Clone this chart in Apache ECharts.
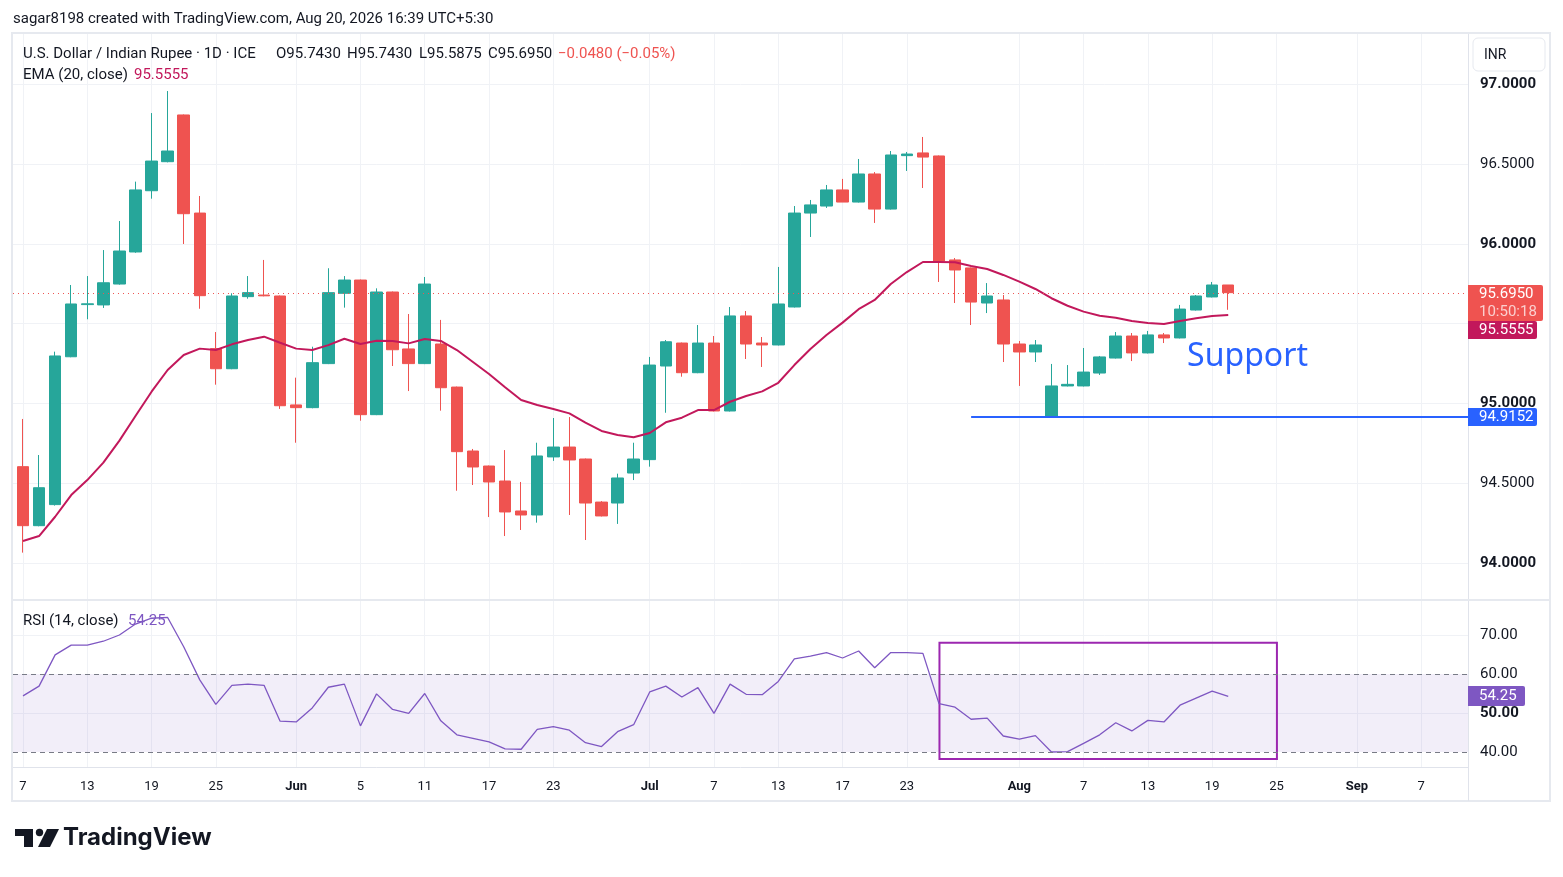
<!DOCTYPE html>
<html>
<head>
<meta charset="utf-8">
<script src="https://cdn.jsdelivr.net/npm/echarts@6/dist/echarts.min.js"></script>
<style>
    html, body { margin: 0; padding: 0; background: #ffffff; }
    #usdinr { width: 1563px; height: 877px; }
</style>
</head>
<body>
<div id="usdinr" class="echarts"></div>
<script>
// trading days shown on the chart
const tradeDates = [
    '2026-05-07','2026-05-08','2026-05-11','2026-05-12','2026-05-13','2026-05-14','2026-05-15',
    '2026-05-18','2026-05-19','2026-05-20','2026-05-21','2026-05-22','2026-05-25','2026-05-26',
    '2026-05-27','2026-05-28','2026-05-29',
    '2026-06-01','2026-06-02','2026-06-03','2026-06-04','2026-06-05','2026-06-08','2026-06-09',
    '2026-06-10','2026-06-11','2026-06-12','2026-06-15','2026-06-16','2026-06-17','2026-06-18',
    '2026-06-19','2026-06-22','2026-06-23','2026-06-24','2026-06-25','2026-06-26','2026-06-29',
    '2026-06-30',
    '2026-07-01','2026-07-02','2026-07-03','2026-07-06','2026-07-07','2026-07-08','2026-07-09',
    '2026-07-10','2026-07-13','2026-07-14','2026-07-15','2026-07-16','2026-07-17','2026-07-20',
    '2026-07-21','2026-07-22','2026-07-23','2026-07-24','2026-07-27','2026-07-28','2026-07-29',
    '2026-07-30','2026-07-31',
    '2026-08-03','2026-08-04','2026-08-05','2026-08-06','2026-08-07','2026-08-10','2026-08-11',
    '2026-08-12','2026-08-13','2026-08-14','2026-08-17','2026-08-18','2026-08-19','2026-08-20'
];

const openPx = [
    94.604, 94.234, 94.366, 95.293, 95.620, 95.618, 95.749, 95.950, 96.334, 96.516,
    96.809, 96.194, 95.344, 95.218, 95.670, 95.680, 95.674, 94.991, 94.974, 95.250,
    95.691, 95.774, 94.930, 95.699, 95.342, 95.250, 95.373, 95.103, 94.702, 94.608,
    94.514, 94.326, 94.301, 94.665, 94.727, 94.652, 94.382, 94.376, 94.564, 94.648,
    95.235, 95.379, 95.193, 95.379, 94.953, 95.549, 95.379, 95.367, 95.605, 96.194,
    96.238, 96.339, 96.263, 96.439, 96.219, 96.554, 96.571, 96.552, 95.900, 95.850,
    95.630, 95.649, 95.373, 95.323, 94.916, 95.110, 95.110, 95.191, 95.285, 95.423,
    95.317, 95.430, 95.411, 95.586, 95.668, 95.743
];
const highPx = [
    94.903, 94.677, 95.325, 95.743, 95.799, 95.962, 96.144, 96.391, 96.821, 96.959,
    96.812, 96.301, 95.448, 95.691, 95.799, 95.900, 95.677, 95.162, 95.356, 95.848,
    95.799, 95.777, 95.722, 95.702, 95.561, 95.793, 95.524, 95.106, 94.715, 94.611,
    94.708, 94.508, 94.754, 94.909, 94.915, 94.655, 94.388, 94.560, 94.754, 95.292,
    95.398, 95.382, 95.492, 95.423, 95.605, 95.580, 95.417, 95.856, 96.238, 96.276,
    96.370, 96.408, 96.533, 96.451, 96.583, 96.577, 96.671, 96.555, 95.912, 95.853,
    95.755, 95.680, 95.392, 95.398, 95.248, 95.241, 95.348, 95.298, 95.448, 95.442,
    95.455, 95.442, 95.618, 95.680, 95.762, 95.743
];
const lowPx = [
    94.065, 94.230, 94.360, 95.290, 95.528, 95.599, 95.745, 95.945, 96.284, 96.512,
    96.000, 95.594, 95.118, 95.215, 95.657, 95.672, 94.966, 94.754, 94.970, 95.247,
    95.601, 94.892, 94.927, 95.235, 95.078, 95.247, 94.955, 94.453, 94.489, 94.288,
    94.169, 94.207, 94.253, 94.640, 94.301, 94.144, 94.292, 94.245, 94.520, 94.604,
    94.942, 95.168, 95.190, 94.950, 94.950, 95.279, 95.229, 95.364, 95.602, 96.044,
    96.226, 96.263, 96.260, 96.132, 96.216, 96.458, 96.351, 95.762, 95.630, 95.492,
    95.567, 95.260, 95.110, 95.260, 94.9152, 95.107, 95.107, 95.179, 95.282, 95.266,
    95.314, 95.379, 95.408, 95.583, 95.665, 95.5875
];
const closePx = [
    94.234, 94.472, 95.298, 95.624, 95.625, 95.757, 95.956, 96.339, 96.520, 96.583,
    96.190, 95.676, 95.218, 95.674, 95.695, 95.675, 94.986, 94.974, 95.256, 95.695,
    95.774, 94.930, 95.699, 95.337, 95.250, 95.749, 95.099, 94.698, 94.602, 94.508,
    94.320, 94.301, 94.671, 94.727, 94.646, 94.376, 94.295, 94.533, 94.652, 95.241,
    95.387, 95.193, 95.379, 94.953, 95.549, 95.373, 95.367, 95.624, 96.194, 96.245,
    96.339, 96.263, 96.439, 96.219, 96.558, 96.564, 96.545, 95.893, 95.837, 95.636,
    95.674, 95.373, 95.323, 95.367, 95.110, 95.120, 95.197, 95.292, 95.423, 95.317,
    95.430, 95.411, 95.592, 95.674, 95.743, 95.695
];

// EMA (20, close)
const ema20 = [
    94.138, 94.169, 94.290, 94.426, 94.520, 94.629, 94.767, 94.922, 95.074, 95.210,
    95.304, 95.344, 95.335, 95.371, 95.398, 95.419, 95.381, 95.344, 95.335, 95.366,
    95.406, 95.373, 95.394, 95.392, 95.377, 95.404, 95.392, 95.335, 95.260, 95.185,
    95.102, 95.022, 94.991, 94.966, 94.938, 94.880, 94.828, 94.803, 94.788, 94.815,
    94.882, 94.911, 94.959, 94.959, 95.011, 95.047, 95.076, 95.130, 95.241, 95.342,
    95.429, 95.507, 95.591, 95.649, 95.749, 95.824, 95.887, 95.887, 95.886, 95.862,
    95.843, 95.806, 95.764, 95.718, 95.660, 95.613, 95.576, 95.550, 95.538, 95.517,
    95.505, 95.498, 95.517, 95.534, 95.549, 95.5555
];

// RSI (14, close)
const rsi14 = [
    54.4, 56.9, 64.9, 67.4, 67.4, 68.4, 70.0, 72.8, 74.3, 74.5,
    67.0, 58.5, 52.2, 57.1, 57.4, 57.1, 47.9, 47.7, 51.3, 56.6,
    57.4, 46.7, 54.9, 50.9, 49.9, 55.0, 48.0, 44.4, 43.5, 42.6,
    40.8, 40.7, 45.8, 46.5, 45.6, 42.4, 41.4, 45.2, 47.0, 55.4,
    56.9, 54.1, 56.5, 49.9, 57.4, 54.8, 54.7, 58.1, 63.9, 64.6,
    65.5, 64.1, 65.9, 61.6, 65.5, 65.5, 65.3, 52.4, 51.5, 48.4,
    48.7, 44.1, 43.3, 44.2, 40.0, 40.1, 42.2, 44.4, 47.5, 45.4,
    48.1, 47.7, 52.0, 53.8, 55.6, 54.25
];

// time scale labels (bar index -> text)
const timeTickIdx = [0, 4, 8, 12, 17, 21, 25, 29, 33, 39, 43, 47, 51, 55, 62, 66, 70, 74, 78, 83, 87];
const timeTickTxt = ['7', '13', '19', '25', 'Jun', '5', '11', '17', '23', 'Jul', '7', '13', '17', '23', 'Aug', '7', '13', '19', '25', 'Sep', '7'];

const priceGridLines = [94, 94.5, 95, 95.5, 96, 96.5, 97];
const priceLabels = [94, 94.5, 95, 96, 96.5, 97];   // 95.5 sits under the tags
const rsiTicks = [40, 50, 60, 70];
const rsiGridLines = [50, 70];
const rsiBand = [40, 60];

const lastPrice = 95.695;
const lastEma = 95.5555;
const lastRsi = 54.25;
const supportLevel = 94.9152;
const supportFromIdx = 59;
const supportTextAt = [76.2, 95.29];
const rsiBoxFrom = [57.03, 68.0];
const rsiBoxTo = [78.03, 38.2];

const X_MIN = -0.622, X_MAX = 89.92;
const FONT = 'Roboto, "Liberation Sans", sans-serif';
const SCALE_FS = 15;

class UsdInrDailyChart {
    constructor(domId) {
        this.domId = domId;
    }
    build() {
        this.chart = echarts.init(document.getElementById(this.domId), null, { renderer: 'canvas' });
        let option = {};
        option.animation = false;
        option.backgroundColor = '#ffffff';
        option.textStyle = { fontFamily: FONT };
        this.setGrid(option);
        this.setXAxis(option);
        this.setYAxis(option);
        this.setSeries(option);
        this.chart.setOption(option, true);
        // price scale tags need the pixel of each value, so add them after the axes exist
        this.chart.setOption({ graphic: this.buildGraphic() });
    }
    setGrid(option) {
        option.grid = [
            { left: 13, right: 95, top: 34, height: 566 },
            { left: 13, right: 95, top: 600, height: 167 }
        ];
    }
    timeAxis(gridIndex, showLabel) {
        return {
            type: 'value',
            gridIndex: gridIndex,
            min: X_MIN,
            max: X_MAX,
            axisLine: { show: false },
            axisTick: { show: false, customValues: timeTickIdx },
            splitLine: { show: true, lineStyle: { color: '#f0f2f6', width: 1 } },
            axisLabel: {
                show: showLabel,
                customValues: timeTickIdx,
                margin: 13,
                formatter: function (v) {
                    let k = timeTickIdx.indexOf(Math.round(v));
                    let t = k < 0 ? '' : timeTickTxt[k];
                    return /^[A-Z]/.test(t) ? '{b|' + t + '}' : '{n|' + t + '}';
                },
                rich: {
                    b: { fontFamily: FONT, fontSize: 13, fontWeight: 'bold', color: '#131722' },
                    n: { fontFamily: FONT, fontSize: 13, color: '#131722' }
                }
            }
        };
    }
    setXAxis(option) {
        option.xAxis = [this.timeAxis(0, false), this.timeAxis(1, true)];
    }
    setYAxis(option) {
        option.yAxis = [
            {
                type: 'value',
                gridIndex: 0,
                position: 'right',
                min: 93.768,
                max: 97.3166,
                axisLine: { show: false },
                axisTick: { show: false, customValues: priceGridLines },
                splitLine: { show: true, lineStyle: { color: '#f0f2f6' } },
                axisLabel: {
                    customValues: priceLabels,
                    margin: 12,
                    formatter: function (v) {
                        let t = v.toFixed(4);
                        return Number.isInteger(v) ? '{b|' + t + '}' : '{n|' + t + '}';
                    },
                    rich: {
                        b: { fontFamily: FONT, fontSize: SCALE_FS, fontWeight: 'bold', color: '#131722' },
                        n: { fontFamily: FONT, fontSize: SCALE_FS, color: '#131722' }
                    }
                }
            },
            {
                type: 'value',
                gridIndex: 1,
                position: 'right',
                min: 36.154,
                max: 78.974,
                axisLine: { show: false },
                axisTick: { show: false, customValues: rsiGridLines },
                splitLine: { show: true, lineStyle: { color: '#f0f2f6' } },
                axisLabel: {
                    customValues: rsiTicks,
                    margin: 12,
                    formatter: function (v) {
                        let t = v.toFixed(2);
                        return v === 50 ? '{b|' + t + '}' : '{n|' + t + '}';
                    },
                    rich: {
                        b: { fontFamily: FONT, fontSize: SCALE_FS, fontWeight: 'bold', color: '#131722' },
                        n: { fontFamily: FONT, fontSize: SCALE_FS, color: '#131722' }
                    }
                }
            }
        ];
    }
    setSeries(option) {
        let candles = tradeDates.map((d, i) => [i, openPx[i], closePx[i], lowPx[i], highPx[i]]);
        option.series = [
            {
                name: 'USDINR',
                type: 'candlestick',
                xAxisIndex: 0,
                yAxisIndex: 0,
                data: candles,
                barWidth: 12,
                itemStyle: {
                    color: '#26a69a',
                    color0: '#ef5350',
                    borderColor: '#26a69a',
                    borderColor0: '#ef5350',
                    borderWidth: 1
                },
                markLine: {
                    silent: true,
                    symbol: ['none', 'none'],
                    label: { show: false },
                    data: [
                        { yAxis: lastPrice, lineStyle: { color: '#ef5350', type: [1, 4], width: 1 } },
                        [
                            { coord: [supportFromIdx, supportLevel], lineStyle: { color: '#2962ff', type: 'solid', width: 2 } },
                            { coord: [X_MAX, supportLevel] }
                        ]
                    ]
                }
            },
            {
                name: 'EMA',
                type: 'line',
                xAxisIndex: 0,
                yAxisIndex: 0,
                data: ema20.map((v, i) => [i, v]),
                symbol: 'none',
                z: 3,
                lineStyle: { color: '#c2185b', width: 2 }
            },
            {
                name: 'RSI',
                type: 'line',
                xAxisIndex: 1,
                yAxisIndex: 1,
                data: rsi14.map((v, i) => [i, v]),
                symbol: 'none',
                lineStyle: { color: '#7e57c2', width: 1.3 },
                markLine: {
                    silent: true,
                    symbol: ['none', 'none'],
                    label: { show: false },
                    lineStyle: { color: '#787b86', type: [5, 4], width: 1 },
                    data: rsiBand.map(v => ({ yAxis: v }))
                },
                markArea: {
                    silent: true,
                    data: [
                        [
                            { yAxis: rsiBand[0], itemStyle: { color: 'rgba(126,87,194,0.1)' } },
                            { yAxis: rsiBand[1] }
                        ],
                        [
                            { coord: rsiBoxFrom, itemStyle: { color: 'rgba(0,0,0,0)', borderColor: '#9c27b0', borderWidth: 2 } },
                            { coord: rsiBoxTo }
                        ]
                    ]
                }
            }
        ];
    }
    tag(y, h, w, bg, lines) {
        let children = [{
            type: 'rect', z: 100,
            shape: { x: 1468, y: y, width: w, height: h, r: [0, 2, 2, 0] },
            style: { fill: bg }
        }];
        lines.forEach(l => {
            children.push({
                type: 'text', z: 101,
                style: {
                    text: l.text, x: 1479, y: y + l.dy,
                    fill: l.color || '#ffffff',
                    font: SCALE_FS + 'px ' + FONT,
                    textVerticalAlign: 'middle'
                }
            });
        });
        return { type: 'group', z: 100, children: children };
    }
    buildGraphic() {
        let chart = this.chart;
        let py = v => chart.convertToPixel({ yAxisIndex: 0 }, v);
        let ry = v => chart.convertToPixel({ yAxisIndex: 1 }, v);
        let px = v => chart.convertToPixel({ xAxisIndex: 0 }, v);
        let g = [];
        // frame
        g.push({ type: 'rect', z: 50, shape: { x: 12, y: 33, width: 1538, height: 768 }, style: { fill: 'none', stroke: '#e6e9ef', lineWidth: 2 } });
        g.push({ type: 'line', z: 50, shape: { x1: 1468.5, y1: 34, x2: 1468.5, y2: 801 }, style: { stroke: '#e0e3eb', lineWidth: 1 } });
        g.push({ type: 'line', z: 50, shape: { x1: 13, y1: 600, x2: 1550, y2: 600 }, style: { stroke: '#e6e9ef', lineWidth: 2 } });
        g.push({ type: 'line', z: 50, shape: { x1: 13, y1: 767.5, x2: 1468, y2: 767.5 }, style: { stroke: '#e0e3eb', lineWidth: 1 } });
        // currency box
        g.push({ type: 'rect', z: 50, shape: { x: 1473, y: 38, width: 72, height: 33, r: 5 }, style: { fill: '#ffffff', stroke: '#e6e9ef', lineWidth: 1 } });
        g.push({ type: 'text', z: 51, style: { text: 'INR', x: 1484, y: 55, font: '14px ' + FONT, fill: '#131722', textVerticalAlign: 'middle' } });
        // credit line
        g.push({ type: 'text', z: 51, style: { text: 'sagar8198 created with TradingView.com, Aug 20, 2026 16:39 UTC+5:30', x: 13, y: 19, font: '15px ' + FONT, fill: '#131722', textVerticalAlign: 'middle' } });
        // legend lines
        let red = '#ef5350';
        let legend = [
            { x: 23, y: 54, text: 'U.S. Dollar / Indian Rupee · 1D · ICE', fill: '#131722' },
            { x: 276, y: 54, text: '{k|O}{v|95.7430}' },
            { x: 347, y: 54, text: '{k|H}{v|95.7430}' },
            { x: 419, y: 54, text: '{k|L}{v|95.5875}' },
            { x: 488, y: 54, text: '{k|C}{v|95.6950}' },
            { x: 558, y: 54, text: '−0.0480 (−0.05%)', fill: red },
            { x: 23, y: 75, text: 'EMA (20, close)', fill: '#131722' },
            { x: 134, y: 75, text: '95.5555', fill: '#c2185b' },
            { x: 23, y: 621, text: 'RSI (14, close)', fill: '#131722' },
            { x: 128, y: 621, text: '54.25', fill: '#7e57c2' }
        ];
        legend.forEach(l => {
            g.push({
                type: 'text', z: 60,
                style: {
                    text: l.text, x: l.x, y: l.y, font: '15px ' + FONT,
                    fill: l.fill || '#131722', textVerticalAlign: 'middle',
                    rich: {
                        k: { fontFamily: FONT, fontSize: 15, color: '#131722' },
                        v: { fontFamily: FONT, fontSize: 15, color: red }
                    }
                }
            });
        });
        // support label
        g.push({
            type: 'text', z: 60,
            style: {
                text: 'Support', x: px(supportTextAt[0]), y: py(supportTextAt[1]),
                font: '32px "Noto Sans", sans-serif', fill: '#2962ff',
                textAlign: 'center', textVerticalAlign: 'middle'
            }
        });
        // price scale tags
        let lastY = Math.round(py(lastPrice));
        let lastTop = lastY - 8;
        g.push(this.tag(lastTop, 36, 75, '#ef5350', [
            { text: lastPrice.toFixed(4), dy: 9 },
            { text: '10:50:18', dy: 27, color: 'rgba(255,255,255,0.72)' }
        ]));
        let emaTop = Math.max(Math.round(py(lastEma)) - 9, lastTop + 36);
        g.push(this.tag(emaTop, 18, 69, '#c2185b', [{ text: lastEma.toFixed(4), dy: 9 }]));
        let supY = Math.round(py(supportLevel));
        g.push(this.tag(supY - 9, 18, 69, '#2962ff', [{ text: supportLevel.toFixed(4), dy: 9 }]));
        let rsiY = Math.round(ry(lastRsi));
        g.push(this.tag(rsiY - 10, 20, 57, '#7e57c2', [{ text: lastRsi.toFixed(2), dy: 10 }]));
        // TradingView logo
        g.push({ type: 'polygon', z: 60, shape: { points: [[15, 829], [33, 829], [33, 847], [24, 847], [24, 836], [15, 836]] }, style: { fill: '#131722' } });
        g.push({ type: 'circle', z: 60, shape: { cx: 39.5, cy: 832.5, r: 3.7 }, style: { fill: '#131722' } });
        g.push({ type: 'polygon', z: 60, shape: { points: [[47, 829], [59, 829], [50, 847], [38, 847]] }, style: { fill: '#131722' } });
        g.push({ type: 'text', z: 60, style: { text: 'TradingView', x: 63, y: 838, font: 'bold 24px Inter, sans-serif', fill: '#131722', textVerticalAlign: 'middle' } });
        return g;
    }
}

let usdInrChart = new UsdInrDailyChart('usdinr');
usdInrChart.build();
</script>
</body>
</html>
